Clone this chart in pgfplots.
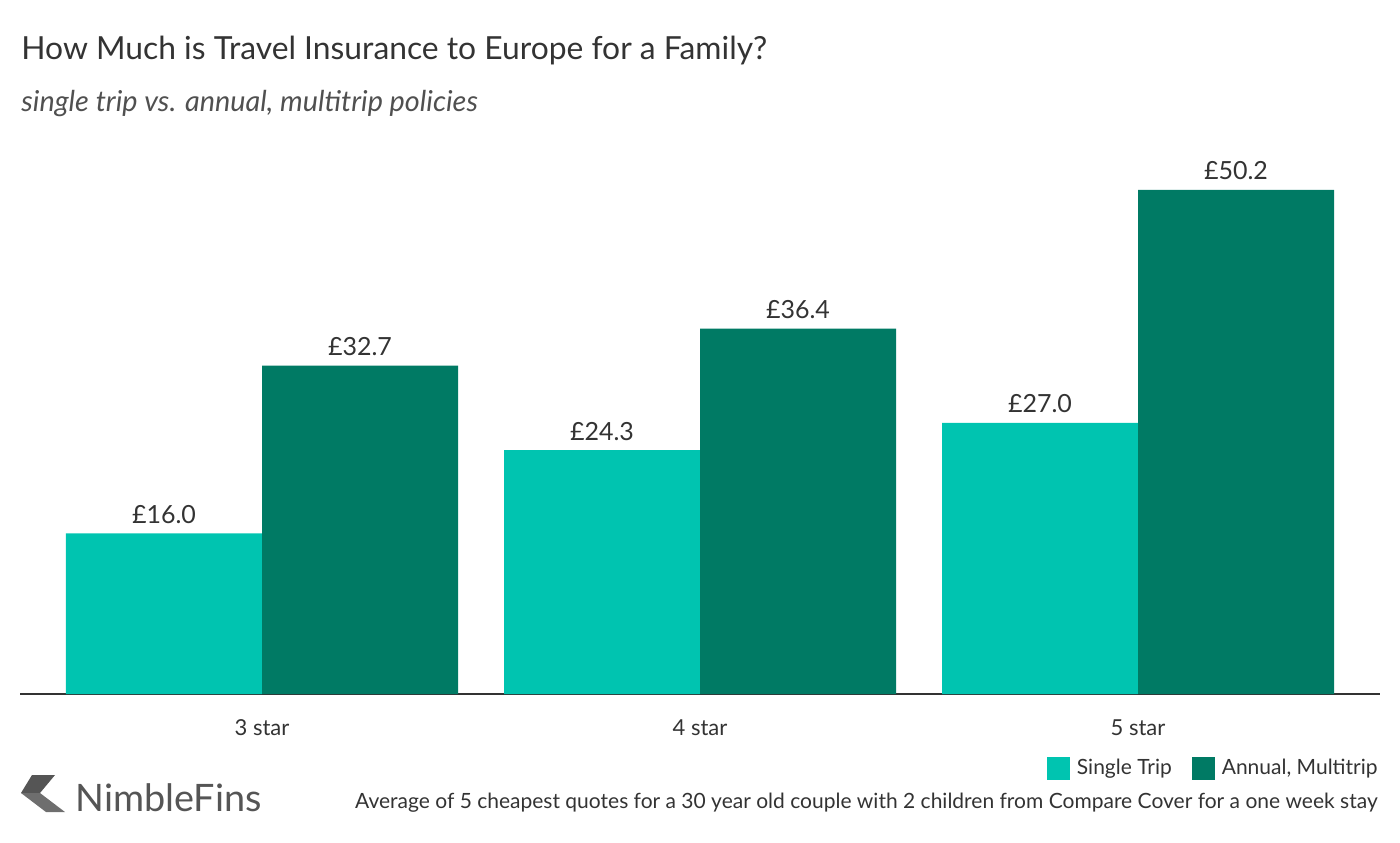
\documentclass[border=0pt]{standalone}
\usepackage{pgfplots}
\pgfplotsset{compat=1.18}
\usepackage{fontspec}
\setmainfont{Lato}
\definecolor{single}{HTML}{00C4B0}
\definecolor{annual}{HTML}{007A64}
\definecolor{txt}{HTML}{333333}
\definecolor{subt}{HTML}{505050}
\definecolor{logo}{HTML}{555555}

\begin{document}
\begin{tikzpicture}
\useasboundingbox (0,0) rectangle (700pt,-421pt);
\begin{axis}[
  at={(10pt,-347pt)}, anchor=south west,
  width=680pt, height=272pt, scale only axis,
  ybar=0pt, bar width=98pt,
  xmin=-0.5525, xmax=2.5525, ymin=0, ymax=54.18,
  axis x line=bottom, axis y line=none,
  axis line style={draw=txt, line width=1pt, -},
  xtick={0,1,2}, xticklabels={3 star,4 star,5 star},
  xtick style={draw=none}, ytick=\empty,
  x tick label style={font=\fontsize{11}{13}\selectfont, text=txt, anchor=base, yshift=-18.5pt},
  /pgf/number format/assume math mode=true,
  nodes near coords={£\pgfmathprintnumber[fixed,fixed zerofill,precision=1]{\pgfplotspointmeta}},
  nodes near coords style={font=\fontsize{12.5}{14}\selectfont, text=txt, anchor=base, inner sep=0pt, yshift=5pt},
  legend style={at={(0.9985,-0.136)}, anchor=east, draw=none, fill=none, legend columns=2, inner sep=0pt,
    font=\fontsize{10.5}{12}\selectfont, text=txt,
    nodes={inner sep=0pt},
    /tikz/every even column/.append style={column sep=10pt}},
  legend image code/.code={\fill[#1,draw=none] (0pt,-5.75pt) rectangle (11.5pt,5.75pt); \path (15pt,0pt);},
]
\addplot[fill=single, draw=none] coordinates {(0,16.0) (1,24.3) (2,27.0)};
\addplot[fill=annual, draw=none] coordinates {(0,32.7) (1,36.4) (2,50.2)};
\legend{Single Trip, {Annual, Multitrip}}
\end{axis}
\begin{scope}[x=0.5pt, y=-0.5pt]
\node[anchor=base west, inner sep=0pt, font=\fontsize{15.9}{18}\selectfont, text=txt] at (21,59) {How Much is Travel Insurance to Europe for a Family?};
\node[anchor=base west, inner sep=0pt, font=\fontsize{14.4}{17}\selectfont\itshape, text=subt] at (21,111) {single trip vs. annual, multitrip policies};
\node[anchor=base east, inner sep=0pt, font=\fontsize{10.5}{12}\selectfont, text=txt] at (1378,808) {Average of 5 cheapest quotes for a 30 year old couple with 2 children from Compare Cover for a one week stay};
\node[anchor=base west, inner sep=0pt, font=\fontsize{18.9}{22}\selectfont, text=logo] at (75,811) {NimbleFins};
\fill[logo] (32,775) -- (55,775) -- (40,793) -- (21,793) -- cycle;
\fill[logo!85] (21,793) -- (40,793) -- (65,812) -- (46,812) -- cycle;
\end{scope}
\end{tikzpicture}
\end{document}
